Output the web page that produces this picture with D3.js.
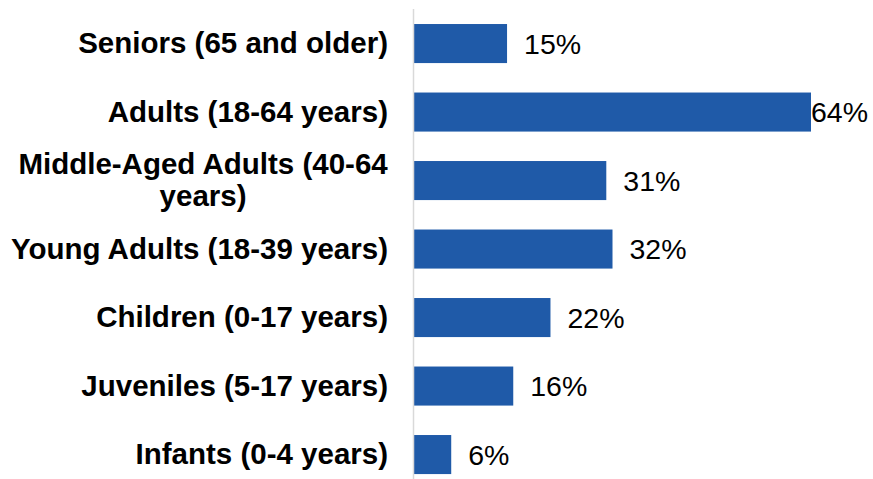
<!DOCTYPE html>
<meta charset="utf-8">
<style>
body { margin: 0; background: #fff; }
text { font-family: "Liberation Sans", Arial, sans-serif; fill: #000; }
.cat { font-weight: bold; font-size: 29.5px; }
.val { font-size: 28.5px; }
</style>
<body>
<script src="https://d3js.org/d3.v7.min.js"></script>
<script>
var categories = ["Seniors (65 and older)", "Adults (18-64 years)", "Middle-Aged Adults (40-64 years)",
  "Young Adults (18-39 years)", "Children (0-17 years)", "Juveniles (5-17 years)", "Infants (0-4 years)"];
var values = [15, 64, 31, 32, 22, 16, 6];
// how the long label breaks onto two lines
var labelLines = [["Seniors (65 and older)"], ["Adults (18-64 years)"], ["Middle-Aged Adults (40-64", "years)"],
  ["Young Adults (18-39 years)"], ["Children (0-17 years)"], ["Juveniles (5-17 years)"], ["Infants (0-4 years)"]];

var width = 873, height = 479,
    axisX = 414, rightEdge = 868;

var svg = d3.select("body").append("svg")
    .attr("width", width)
    .attr("height", height);

var x = d3.scaleLinear()
    .domain([0, 64])
    .range([axisX, 811]);

var y = d3.scaleBand()
    .domain(categories)
    .range([9.3, 488.8])
    .paddingInner(0.43)
    .paddingOuter(0.215);

svg.selectAll("rect.bar")
    .data(values)
  .enter().append("rect")
    .attr("class", "bar")
    .attr("x", x(0))
    .attr("y", function(d, i) { return y(categories[i]); })
    .attr("width", function(d) { return x(d) - x(0); })
    .attr("height", y.bandwidth())
    .attr("fill", "#1f5aa8");

// vertical axis line
svg.append("line")
    .attr("x1", axisX - 0.5).attr("x2", axisX - 0.5)
    .attr("y1", 9).attr("y2", height)
    .attr("stroke", "#d9d9d9")
    .attr("stroke-width", 1.5);

// category labels
var lh = 32;
var cat = svg.selectAll("text.cat")
    .data(labelLines)
  .enter().append("text")
    .attr("class", "cat")
    .attr("text-anchor", "middle")
    .attr("y", function(d, i) { return y(categories[i]) + y.bandwidth() / 2 - (d.length - 1) * lh / 2; });

cat.each(function(d) {
  var t = d3.select(this);
  d.forEach(function(line, k) {
    t.append("tspan").attr("x", 0).attr("dy", k ? lh : "0.33em").text(line);
  });
  // right align the block, lines centred within it
  var w = this.getBBox().width;
  t.selectAll("tspan").attr("x", 388 - w / 2);
});

// value labels
svg.selectAll("text.val")
    .data(values)
  .enter().append("text")
    .attr("class", "val")
    .attr("y", function(d, i) { return y(categories[i]) + y.bandwidth() / 2; })
    .attr("dy", "0.36em")
    .text(function(d) { return d + "%"; })
    .attr("x", function(d) {
      var w = this.getComputedTextLength();
      return Math.min(x(d) + 17, rightEdge - w);
    });
</script>
</body>
